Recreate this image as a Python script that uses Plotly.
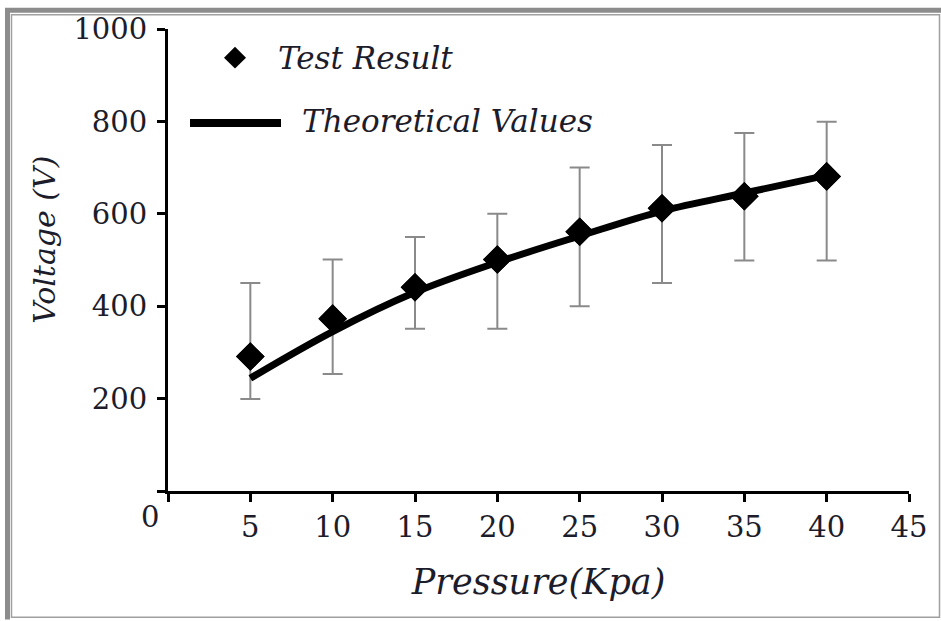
import plotly.graph_objects as go

# ---- data ----
pressure = [5, 10, 15, 20, 25, 30, 35, 40]
test_result = [291, 373, 441, 501, 561, 612, 638, 681]
err_top = [450, 501, 550, 600, 700, 749, 775, 799]
err_bottom = [199, 253, 351, 351, 400, 450, 499, 499]
theoretical = [244, 345, 430, 495, 552, 606, 645, 683]

x_ticks = [0, 5, 10, 15, 20, 25, 30, 35, 40, 45]
x_tick_text = ["", "5", "10", "15", "20", "25", "30", "35", "40", "45"]
y_ticks = [0, 200, 400, 600, 800, 1000]
y_tick_text = ["", "200", "400", "600", "800", "1000"]

err_plus = [t - v for t, v in zip(err_top, test_result)]
err_minus = [v - b for v, b in zip(test_result, err_bottom)]

FONT = "DejaVu Serif"
TXT = "#1c1c2a"

W, H = 941, 621
L, R, T, B = 168, 32, 24, 130
PW, PH = W - L - R, H - T - B


def px(x):
    return (x - L) / PW


def py(y):
    return (H - B - y) / PH


fig = go.Figure()

fig.add_trace(go.Scatter(
    x=pressure, y=test_result, mode="markers",
    marker=dict(symbol="diamond", size=22, color="black"),
    error_y=dict(type="data", symmetric=False, array=err_plus, arrayminus=err_minus,
                 color="#8a8a8a", thickness=2, width=10),
    showlegend=False, cliponaxis=False,
))
fig.add_trace(go.Scatter(
    x=pressure, y=theoretical, mode="lines", line_shape="spline",
    line=dict(color="black", width=7), showlegend=False, cliponaxis=False,
))
fig.add_trace(go.Scatter(
    x=pressure, y=test_result, mode="markers",
    marker=dict(symbol="diamond", size=22, color="black"),
    showlegend=False, cliponaxis=False,
))

shapes = []
# legend diamond
cx, cy, d = 235, 53, 11
shapes.append(dict(type="path", xref="paper", yref="paper",
                   path=f"M {px(cx-d)} {py(cy)} L {px(cx)} {py(cy-d)} L {px(cx+d)} {py(cy)} L {px(cx)} {py(cy+d)} Z",
                   fillcolor="black", line=dict(color="black", width=0)))
# legend line sample
shapes.append(dict(type="line", xref="paper", yref="paper",
                   x0=px(190), x1=px(281), y0=py(119), y1=py(119),
                   line=dict(color="black", width=8)))
# outer frame: thick top/left band, thin inner rectangle
shapes.append(dict(type="line", xref="paper", yref="paper",
                   x0=px(5), x1=px(941), y0=py(5), y1=py(5),
                   line=dict(color="#8c8c8c", width=5)))
shapes.append(dict(type="line", xref="paper", yref="paper",
                   x0=px(7.5), x1=px(7.5), y0=py(3), y1=py(621),
                   line=dict(color="#8c8c8c", width=5)))
shapes.append(dict(type="rect", xref="paper", yref="paper",
                   x0=px(11.5), x1=px(939.5), y0=py(618.5), y1=py(9.5),
                   line=dict(color="#a0a0a0", width=1.5)))

annotations = [
    dict(text="Test Result", xref="paper", yref="paper", x=px(276), y=py(53),
         xanchor="left", yanchor="middle", showarrow=False,
         font=dict(family=FONT, size=31, color=TXT, style="italic")),
    dict(text="Theoretical Values", xref="paper", yref="paper", x=px(300), y=py(117),
         xanchor="left", yanchor="middle", showarrow=False,
         font=dict(family=FONT, size=31, color=TXT, style="italic")),
    dict(text="0", xref="paper", yref="paper", x=px(150), y=py(517),
         xanchor="center", yanchor="middle", showarrow=False,
         font=dict(family=FONT, size=29, color=TXT)),
    dict(text="Voltage (V)", xref="paper", yref="paper", x=px(45), y=py(237),
         xanchor="center", yanchor="middle", showarrow=False, textangle=-90,
         font=dict(family=FONT, size=30, color=TXT, style="italic")),
]

axis_common = dict(showline=True, linecolor="black", linewidth=3, ticks="outside",
                   ticklen=8, tickwidth=3, tickcolor="black", showgrid=False,
                   zeroline=False, mirror=False,
                   tickfont=dict(family=FONT, size=29, color=TXT))

fig.update_layout(
    width=W, height=H, autosize=False,
    margin=dict(l=L, r=R, t=T, b=B, pad=0),
    paper_bgcolor="white", plot_bgcolor="white",
    xaxis=dict(range=[0, 45], tickvals=x_ticks, ticktext=x_tick_text,
               title=dict(text="Pressure(Kpa)", standoff=27,
                          font=dict(family=FONT, size=35, color=TXT, style="italic")),
               **axis_common),
    yaxis=dict(range=[0, 1000], tickvals=y_ticks, ticktext=y_tick_text, ticklabelstandoff=4,
               **axis_common),
    shapes=shapes, annotations=annotations,
)

fig.write_html("out.html", config={"displayModeBar": False},
               post_script="document.body.style.margin='0px';")
